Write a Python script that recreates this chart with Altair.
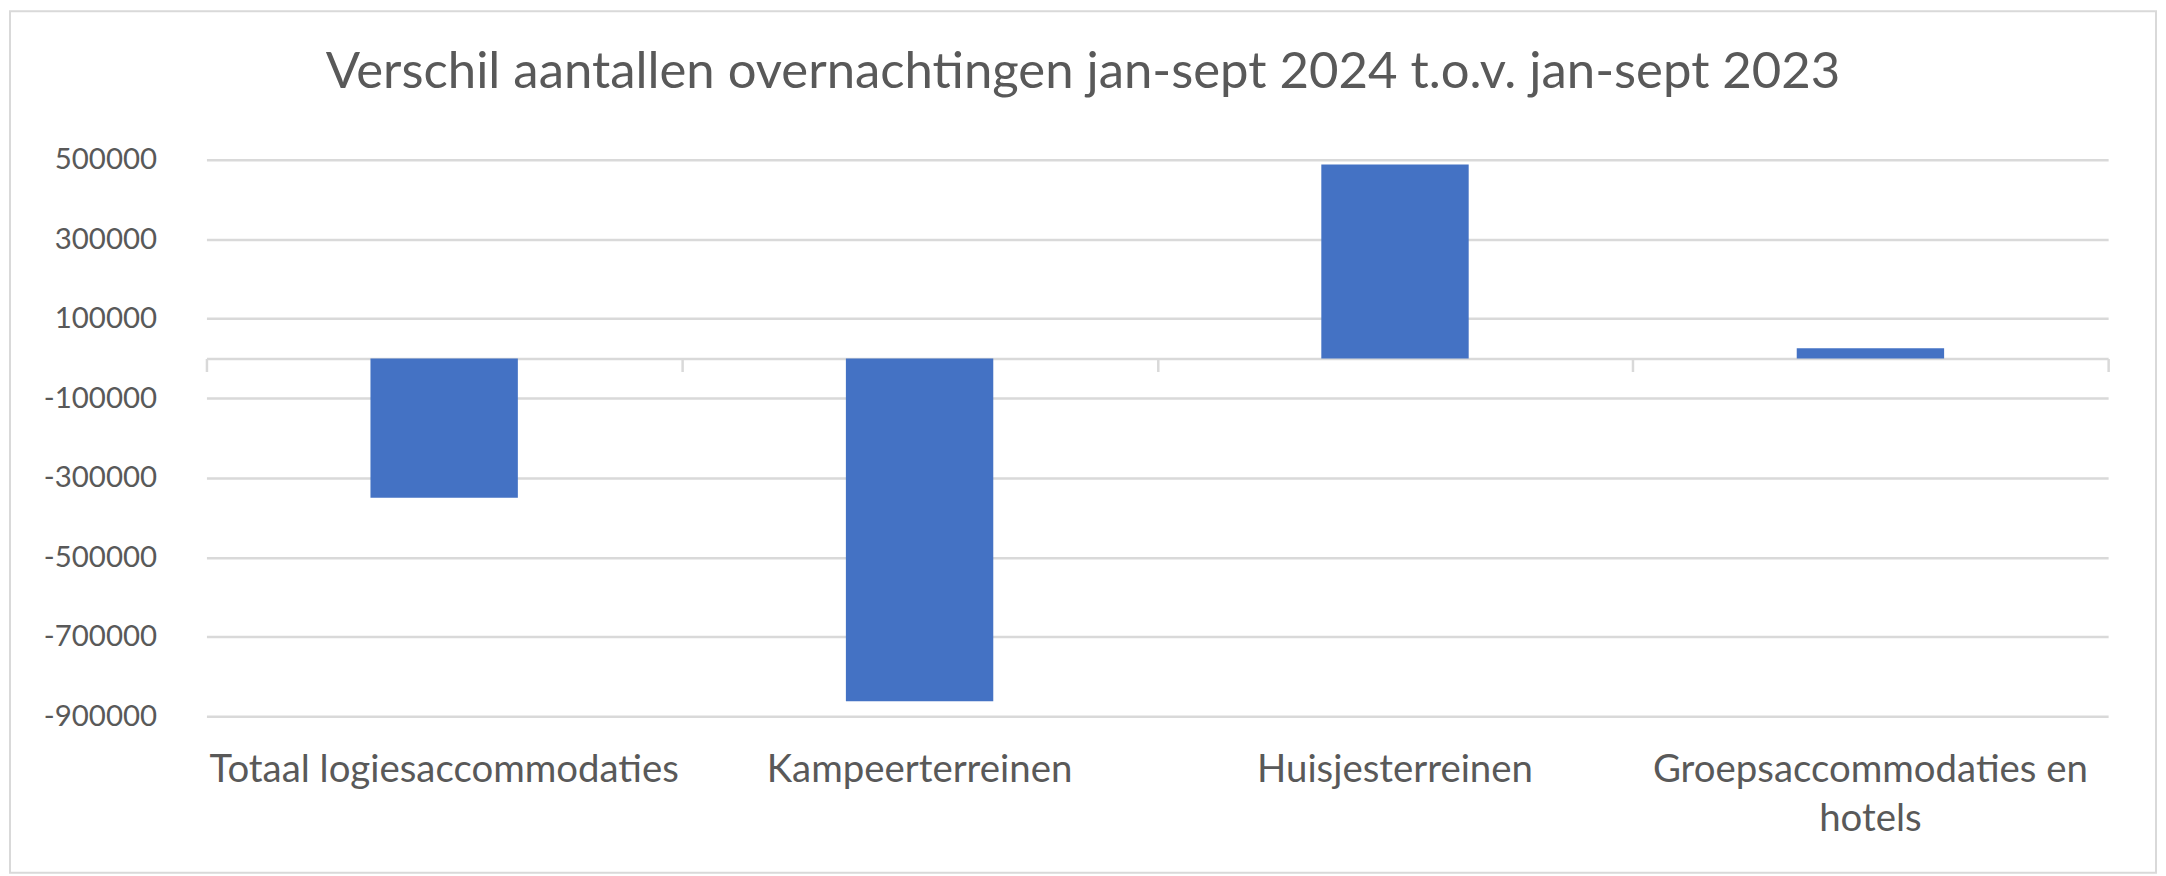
import altair as alt
import pandas as pd

categories = ["Totaal logiesaccommodaties", "Kampeerterreinen", "Huisjesterreinen", "Groepsaccommodaties en hotels"]
values = [-350000, -862000, 488000, 26000]
y_ticks = [500000, 300000, 100000, -100000, -300000, -500000, -700000, -900000]
title_text = "Verschil aantallen overnachtingen jan-sept 2024 t.o.v. jan-sept 2023"

df = pd.DataFrame({"cat": categories, "val": values})

FONT = "Lato"
GREY = "#595959"
LINE = "#D9D9D9"
W, H = 1907, 558
PL, PT, PR, PB = 199, 151, 50, 159
P_IN = 0.69

xscale = alt.Scale(paddingInner=P_IN, paddingOuter=P_IN / 2)
xscale_full = alt.Scale(paddingInner=0, paddingOuter=0)
yscale = alt.Scale(domain=[-900000, 500000], nice=False, zero=False)

y_axis = alt.Axis(values=y_ticks, labelExpr="'' + datum.value", domain=False, ticks=False,
                  grid=True, gridColor=LINE, gridWidth=2.5,
                  labelFont=FONT, labelFontSize=29.5, labelColor=GREY, labelPadding=50)

border = alt.Chart(pd.DataFrame({"a": [0]})).mark_rect(
    fillOpacity=0, stroke=LINE, strokeWidth=2
).encode(
    x=alt.value(-PL + 2), x2=alt.value(W + PR - 2),
    y=alt.value(-PT + 2), y2=alt.value(H + PB - 2),
)

bars = alt.Chart(df).mark_bar(color="#4472C4").encode(
    x=alt.X("cat:N", sort=None, scale=xscale, title=None,
            axis=alt.Axis(orient="bottom", domain=False, ticks=False, labelAngle=0,
                          labelFont=FONT, labelFontSize=38.5, labelColor=GREY,
                          labelPadding=35, labelLineHeight=50, labelLimit=700,
                          labelBaseline="top",
                          labelExpr="datum.value == 'Groepsaccommodaties en hotels' ? ['Groepsaccommodaties en', 'hotels'] : datum.label")),
    y=alt.Y("val:Q", scale=yscale, title=None, axis=y_axis),
)

zero_axis = alt.Chart(df).mark_bar(opacity=0).encode(
    x=alt.X("cat:N", sort=None, scale=xscale_full, title=None,
            axis=alt.Axis(orient="bottom", offset=-(H * 900000 / 1400000), labels=False,
                          domain=True, domainColor=LINE, domainWidth=2.5,
                          ticks=True, tickColor=LINE, tickWidth=2.5, tickSize=13,
                          tickBand="extent", grid=False)),
    y=alt.Y("val:Q", scale=yscale, title=None, axis=y_axis),
)

chart = alt.layer(border, bars, zero_axis).resolve_scale(x="independent").resolve_axis(x="independent").properties(
    width=W, height=H,
    padding={"left": PL, "top": PT, "right": PR, "bottom": PB},
    autosize=alt.AutoSizeParams(type="none"),
    title=alt.Title(title_text, font=FONT, fontSize=51, fontWeight="normal", color=GREY,
                    anchor="middle", frame="bounds", offset=-89),
).configure_view(stroke=None)

chart.save("out.html", embed_options={"renderer": "svg", "actions": False})
